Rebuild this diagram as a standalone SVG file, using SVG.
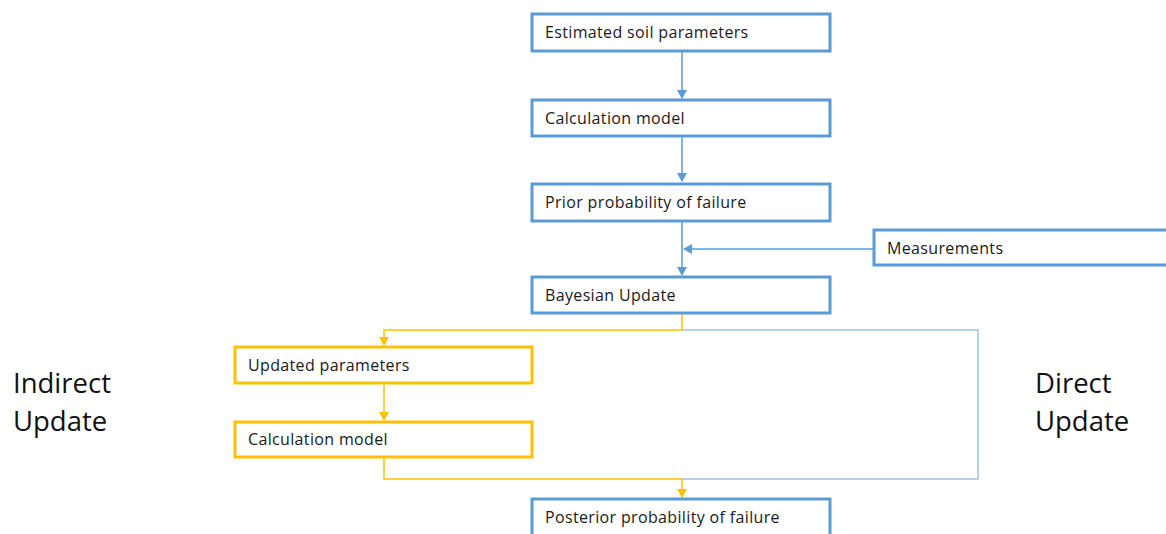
<svg xmlns="http://www.w3.org/2000/svg" width="1166" height="534" viewBox="0 0 1166 534">
<style>
.b{fill:#fff;stroke:#5B9BD5;stroke-width:3}
.y{fill:#fff;stroke:#FFC000;stroke-width:3}
.t{font-family:"Open Sans","Liberation Sans",sans-serif;font-size:16px;letter-spacing:0.35px;fill:#1a1a1a}
.L{font-family:"Open Sans","Liberation Sans",sans-serif;font-size:27.5px;fill:#111}
.cb{fill:none;stroke:#5B9BD5;stroke-width:1.5}
.cl{fill:none;stroke:#9DC3E6;stroke-width:1.5}
.cy{fill:none;stroke:#FFC000;stroke-width:1.5}
</style>
<defs>
<marker id="ab" markerWidth="10" markerHeight="10" refX="8" refY="5" orient="auto" markerUnits="userSpaceOnUse"><path d="M0,0 L9,5 L0,10 z" fill="#5B9BD5"/></marker>
<marker id="ay" markerWidth="10" markerHeight="10" refX="8" refY="5" orient="auto" markerUnits="userSpaceOnUse"><path d="M0,0 L9,5 L0,10 z" fill="#FFC000"/></marker>
</defs>
<rect width="1166" height="534" fill="#fff"/>
<g id="connectors">
<line class="cb" x1="682" y1="52" x2="682" y2="98" marker-end="url(#ab)"/>
<line class="cb" x1="682" y1="137" x2="682" y2="181" marker-end="url(#ab)"/>
<line class="cb" x1="682" y1="222" x2="682" y2="275" marker-end="url(#ab)"/>
<line class="cb" x1="873" y1="249" x2="684" y2="249" marker-end="url(#ab)"/>
<polyline class="cl" points="682,330 978,330 978,479 682,479"/>
<polyline class="cy" points="682,314 682,330 384,330 384,345" marker-end="url(#ay)"/>
<line class="cy" x1="384" y1="385" x2="384" y2="420" marker-end="url(#ay)"/>
<polyline class="cy" points="384,458 384,479 682,479 682,497" marker-end="url(#ay)"/>
</g>
<g id="n1"><rect class="b" x="532" y="14" width="298" height="37"/><text class="t" x="545" y="38">Estimated soil parameters</text></g>
<g id="n2"><rect class="b" x="532" y="100" width="298" height="36"/><text class="t" x="545" y="124">Calculation model</text></g>
<g id="n3"><rect class="b" x="532" y="184" width="298" height="37"/><text class="t" x="545" y="208">Prior probability of failure</text></g>
<g id="n4"><rect class="b" x="874" y="230" width="300" height="35"/><text class="t" x="887" y="254">Measurements</text></g>
<g id="n5"><rect class="b" x="532" y="277" width="298" height="36"/><text class="t" x="545" y="301">Bayesian Update</text></g>
<g id="n6"><rect class="y" x="235" y="347" width="297" height="36"/><text class="t" x="248" y="371">Updated parameters</text></g>
<g id="n7"><rect class="y" x="235" y="422" width="297" height="35"/><text class="t" x="248" y="445">Calculation model</text></g>
<g id="n8"><rect class="b" x="532" y="499" width="298" height="40"/><text class="t" x="545" y="523">Posterior probability of failure</text></g>
<g id="labels">
<text class="L" x="13" y="393">Indirect</text>
<text class="L" x="13" y="431">Update</text>
<text class="L" x="1035" y="393">Direct</text>
<text class="L" x="1035" y="431">Update</text>
</g>
</svg>
